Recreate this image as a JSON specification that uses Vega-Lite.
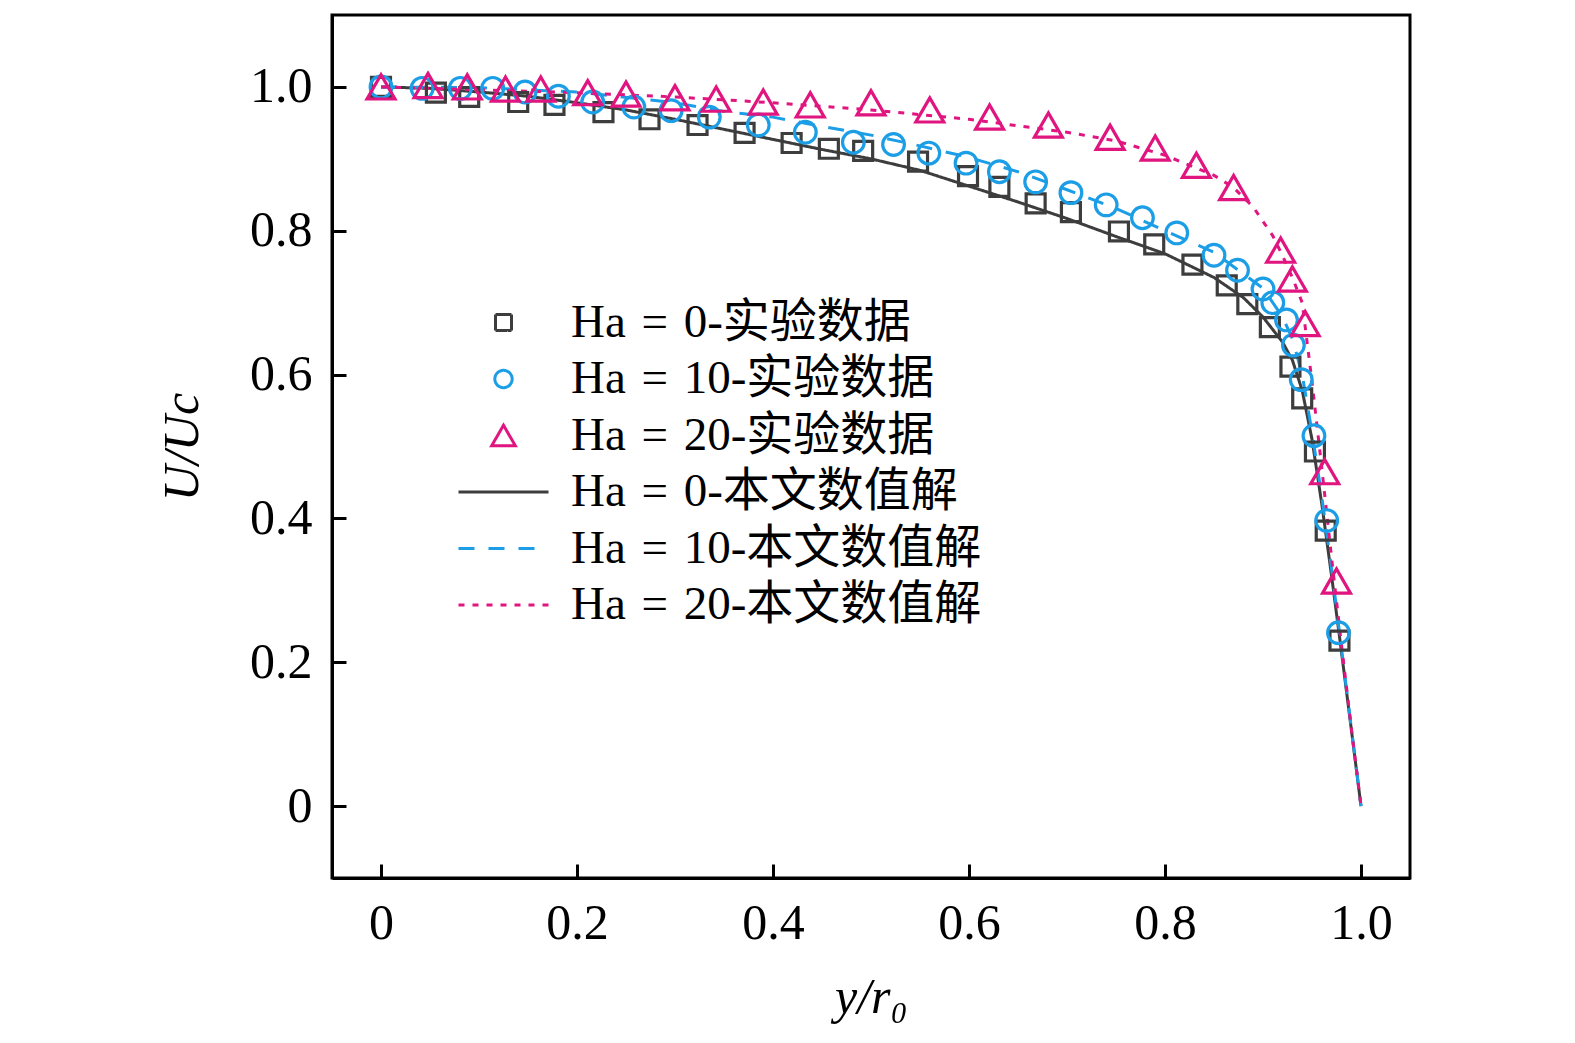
{
  "$schema": "https://vega.github.io/schema/vega-lite/v6.json",
  "width": 1078,
  "height": 863,
  "autosize": {"type": "none"},
  "padding": {"left": 332, "top": 15, "right": 165, "bottom": 165},
  "background": "white",
  "config": {
    "view": {"stroke": "black", "strokeWidth": 3},
    "axis": {
      "grid": false,
      "domainColor": "black",
      "domainWidth": 3,
      "tickColor": "black",
      "tickWidth": 3,
      "tickSize": -14,
      "labelFont": "Liberation Serif",
      "labelFontSize": 50,
      "labelColor": "black",
      "titleFont": "Liberation Serif",
      "titleFontSize": 50,
      "titleFontStyle": "italic",
      "titleFontWeight": "normal",
      "titleColor": "black"
    },
    "legend": {
      "symbolSize": 8100,
      "rowPadding": 8.5,
      "labelOffset": 44,
      "labelFontSize": 47,
      "labelFont": "Liberation Serif, Noto Sans CJK SC",
      "labelColor": "black",
      "labelLimit": 0,
      "padding": 0
    }
  },
  "datasets": {
    "pts": [
      {"x": 0.0, "u": 1.0, "s": "Ha = 0-实验数据"},
      {"x": 0.056, "u": 0.992, "s": "Ha = 0-实验数据"},
      {"x": 0.09, "u": 0.986, "s": "Ha = 0-实验数据"},
      {"x": 0.14, "u": 0.979, "s": "Ha = 0-实验数据"},
      {"x": 0.177, "u": 0.975, "s": "Ha = 0-实验数据"},
      {"x": 0.227, "u": 0.965, "s": "Ha = 0-实验数据"},
      {"x": 0.274, "u": 0.955, "s": "Ha = 0-实验数据"},
      {"x": 0.323, "u": 0.947, "s": "Ha = 0-实验数据"},
      {"x": 0.371, "u": 0.936, "s": "Ha = 0-实验数据"},
      {"x": 0.419, "u": 0.922, "s": "Ha = 0-实验数据"},
      {"x": 0.457, "u": 0.914, "s": "Ha = 0-实验数据"},
      {"x": 0.492, "u": 0.911, "s": "Ha = 0-实验数据"},
      {"x": 0.548, "u": 0.896, "s": "Ha = 0-实验数据"},
      {"x": 0.599, "u": 0.876, "s": "Ha = 0-实验数据"},
      {"x": 0.631, "u": 0.861, "s": "Ha = 0-实验数据"},
      {"x": 0.668, "u": 0.838, "s": "Ha = 0-实验数据"},
      {"x": 0.704, "u": 0.826, "s": "Ha = 0-实验数据"},
      {"x": 0.753, "u": 0.799, "s": "Ha = 0-实验数据"},
      {"x": 0.789, "u": 0.781, "s": "Ha = 0-实验数据"},
      {"x": 0.828, "u": 0.753, "s": "Ha = 0-实验数据"},
      {"x": 0.863, "u": 0.724, "s": "Ha = 0-实验数据"},
      {"x": 0.884, "u": 0.698, "s": "Ha = 0-实验数据"},
      {"x": 0.907, "u": 0.666, "s": "Ha = 0-实验数据"},
      {"x": 0.928, "u": 0.611, "s": "Ha = 0-实验数据"},
      {"x": 0.94, "u": 0.567, "s": "Ha = 0-实验数据"},
      {"x": 0.953, "u": 0.493, "s": "Ha = 0-实验数据"},
      {"x": 0.964, "u": 0.383, "s": "Ha = 0-实验数据"},
      {"x": 0.978, "u": 0.23, "s": "Ha = 0-实验数据"},
      {"x": 0.0, "u": 1.0, "s": "Ha = 10-实验数据"},
      {"x": 0.042, "u": 0.998, "s": "Ha = 10-实验数据"},
      {"x": 0.081, "u": 0.998, "s": "Ha = 10-实验数据"},
      {"x": 0.114, "u": 0.998, "s": "Ha = 10-实验数据"},
      {"x": 0.147, "u": 0.993, "s": "Ha = 10-实验数据"},
      {"x": 0.181, "u": 0.987, "s": "Ha = 10-实验数据"},
      {"x": 0.216, "u": 0.979, "s": "Ha = 10-实验数据"},
      {"x": 0.258, "u": 0.972, "s": "Ha = 10-实验数据"},
      {"x": 0.296, "u": 0.967, "s": "Ha = 10-实验数据"},
      {"x": 0.335, "u": 0.958, "s": "Ha = 10-实验数据"},
      {"x": 0.385, "u": 0.947, "s": "Ha = 10-实验数据"},
      {"x": 0.433, "u": 0.937, "s": "Ha = 10-实验数据"},
      {"x": 0.482, "u": 0.923, "s": "Ha = 10-实验数据"},
      {"x": 0.523, "u": 0.92, "s": "Ha = 10-实验数据"},
      {"x": 0.559, "u": 0.908, "s": "Ha = 10-实验数据"},
      {"x": 0.597, "u": 0.894, "s": "Ha = 10-实验数据"},
      {"x": 0.631, "u": 0.882, "s": "Ha = 10-实验数据"},
      {"x": 0.668, "u": 0.868, "s": "Ha = 10-实验数据"},
      {"x": 0.704, "u": 0.853, "s": "Ha = 10-实验数据"},
      {"x": 0.74, "u": 0.836, "s": "Ha = 10-实验数据"},
      {"x": 0.777, "u": 0.818, "s": "Ha = 10-实验数据"},
      {"x": 0.812, "u": 0.797, "s": "Ha = 10-实验数据"},
      {"x": 0.85, "u": 0.766, "s": "Ha = 10-实验数据"},
      {"x": 0.874, "u": 0.745, "s": "Ha = 10-实验数据"},
      {"x": 0.9, "u": 0.719, "s": "Ha = 10-实验数据"},
      {"x": 0.91, "u": 0.7, "s": "Ha = 10-实验数据"},
      {"x": 0.924, "u": 0.676, "s": "Ha = 10-实验数据"},
      {"x": 0.931, "u": 0.641, "s": "Ha = 10-实验数据"},
      {"x": 0.939, "u": 0.593, "s": "Ha = 10-实验数据"},
      {"x": 0.952, "u": 0.515, "s": "Ha = 10-实验数据"},
      {"x": 0.965, "u": 0.397, "s": "Ha = 10-实验数据"},
      {"x": 0.977, "u": 0.241, "s": "Ha = 10-实验数据"},
      {"x": 0.0, "u": 1.0, "s": "Ha = 20-实验数据"},
      {"x": 0.048, "u": 1.002, "s": "Ha = 20-实验数据"},
      {"x": 0.088, "u": 1.0, "s": "Ha = 20-实验数据"},
      {"x": 0.127, "u": 0.997, "s": "Ha = 20-实验数据"},
      {"x": 0.163, "u": 0.997, "s": "Ha = 20-实验数据"},
      {"x": 0.211, "u": 0.992, "s": "Ha = 20-实验数据"},
      {"x": 0.25, "u": 0.99, "s": "Ha = 20-实验数据"},
      {"x": 0.3, "u": 0.985, "s": "Ha = 20-实验数据"},
      {"x": 0.342, "u": 0.983, "s": "Ha = 20-实验数据"},
      {"x": 0.39, "u": 0.979, "s": "Ha = 20-实验数据"},
      {"x": 0.438, "u": 0.975, "s": "Ha = 20-实验数据"},
      {"x": 0.5, "u": 0.978, "s": "Ha = 20-实验数据"},
      {"x": 0.56, "u": 0.968, "s": "Ha = 20-实验数据"},
      {"x": 0.621, "u": 0.958, "s": "Ha = 20-实验数据"},
      {"x": 0.681, "u": 0.947, "s": "Ha = 20-实验数据"},
      {"x": 0.744, "u": 0.93, "s": "Ha = 20-实验数据"},
      {"x": 0.79, "u": 0.915, "s": "Ha = 20-实验数据"},
      {"x": 0.832, "u": 0.891, "s": "Ha = 20-实验数据"},
      {"x": 0.87, "u": 0.86, "s": "Ha = 20-实验数据"},
      {"x": 0.918, "u": 0.773, "s": "Ha = 20-实验数据"},
      {"x": 0.93, "u": 0.733, "s": "Ha = 20-实验数据"},
      {"x": 0.943, "u": 0.671, "s": "Ha = 20-实验数据"},
      {"x": 0.963, "u": 0.465, "s": "Ha = 20-实验数据"},
      {"x": 0.975, "u": 0.313, "s": "Ha = 20-实验数据"}
    ],
    "lines": [
      {"x": 0.0, "u": 1.0, "s": "Ha = 0-本文数值解"},
      {"x": 0.05, "u": 0.998, "s": "Ha = 0-本文数值解"},
      {"x": 0.1, "u": 0.993, "s": "Ha = 0-本文数值解"},
      {"x": 0.15, "u": 0.987, "s": "Ha = 0-本文数值解"},
      {"x": 0.2, "u": 0.978, "s": "Ha = 0-本文数值解"},
      {"x": 0.25, "u": 0.968, "s": "Ha = 0-本文数值解"},
      {"x": 0.3, "u": 0.955, "s": "Ha = 0-本文数值解"},
      {"x": 0.35, "u": 0.941, "s": "Ha = 0-本文数值解"},
      {"x": 0.4, "u": 0.927, "s": "Ha = 0-本文数值解"},
      {"x": 0.45, "u": 0.913, "s": "Ha = 0-本文数值解"},
      {"x": 0.5, "u": 0.9, "s": "Ha = 0-本文数值解"},
      {"x": 0.55, "u": 0.884, "s": "Ha = 0-本文数值解"},
      {"x": 0.6, "u": 0.862, "s": "Ha = 0-本文数值解"},
      {"x": 0.65, "u": 0.84, "s": "Ha = 0-本文数值解"},
      {"x": 0.7, "u": 0.817, "s": "Ha = 0-本文数值解"},
      {"x": 0.75, "u": 0.792, "s": "Ha = 0-本文数值解"},
      {"x": 0.8, "u": 0.768, "s": "Ha = 0-本文数值解"},
      {"x": 0.85, "u": 0.735, "s": "Ha = 0-本文数值解"},
      {"x": 0.88, "u": 0.707, "s": "Ha = 0-本文数值解"},
      {"x": 0.9, "u": 0.68, "s": "Ha = 0-本文数值解"},
      {"x": 0.92, "u": 0.645, "s": "Ha = 0-本文数值解"},
      {"x": 0.93, "u": 0.62, "s": "Ha = 0-本文数值解"},
      {"x": 0.94, "u": 0.578, "s": "Ha = 0-本文数值解"},
      {"x": 0.95, "u": 0.51, "s": "Ha = 0-本文数值解"},
      {"x": 0.96, "u": 0.42, "s": "Ha = 0-本文数值解"},
      {"x": 0.97, "u": 0.32, "s": "Ha = 0-本文数值解"},
      {"x": 0.98, "u": 0.215, "s": "Ha = 0-本文数值解"},
      {"x": 0.99, "u": 0.108, "s": "Ha = 0-本文数值解"},
      {"x": 1.0, "u": 0.0, "s": "Ha = 0-本文数值解"},
      {"x": 0.0, "u": 1.0, "s": "Ha = 10-本文数值解"},
      {"x": 0.1, "u": 0.999, "s": "Ha = 10-本文数值解"},
      {"x": 0.2, "u": 0.993, "s": "Ha = 10-本文数值解"},
      {"x": 0.3, "u": 0.978, "s": "Ha = 10-本文数值解"},
      {"x": 0.35, "u": 0.966, "s": "Ha = 10-本文数值解"},
      {"x": 0.4, "u": 0.958, "s": "Ha = 10-本文数值解"},
      {"x": 0.45, "u": 0.945, "s": "Ha = 10-本文数值解"},
      {"x": 0.5, "u": 0.933, "s": "Ha = 10-本文数值解"},
      {"x": 0.55, "u": 0.918, "s": "Ha = 10-本文数值解"},
      {"x": 0.6, "u": 0.902, "s": "Ha = 10-本文数值解"},
      {"x": 0.65, "u": 0.882, "s": "Ha = 10-本文数值解"},
      {"x": 0.7, "u": 0.857, "s": "Ha = 10-本文数值解"},
      {"x": 0.75, "u": 0.831, "s": "Ha = 10-本文数值解"},
      {"x": 0.8, "u": 0.8, "s": "Ha = 10-本文数值解"},
      {"x": 0.85, "u": 0.77, "s": "Ha = 10-本文数值解"},
      {"x": 0.9, "u": 0.72, "s": "Ha = 10-本文数值解"},
      {"x": 0.92, "u": 0.68, "s": "Ha = 10-本文数值解"},
      {"x": 0.93, "u": 0.65, "s": "Ha = 10-本文数值解"},
      {"x": 0.94, "u": 0.6, "s": "Ha = 10-本文数值解"},
      {"x": 0.95, "u": 0.52, "s": "Ha = 10-本文数值解"},
      {"x": 0.96, "u": 0.43, "s": "Ha = 10-本文数值解"},
      {"x": 0.97, "u": 0.33, "s": "Ha = 10-本文数值解"},
      {"x": 0.98, "u": 0.22, "s": "Ha = 10-本文数值解"},
      {"x": 0.99, "u": 0.11, "s": "Ha = 10-本文数值解"},
      {"x": 1.0, "u": 0.0, "s": "Ha = 10-本文数值解"},
      {"x": 0.0, "u": 1.0, "s": "Ha = 20-本文数值解"},
      {"x": 0.1, "u": 0.996, "s": "Ha = 20-本文数值解"},
      {"x": 0.2, "u": 0.992, "s": "Ha = 20-本文数值解"},
      {"x": 0.3, "u": 0.986, "s": "Ha = 20-本文数值解"},
      {"x": 0.4, "u": 0.978, "s": "Ha = 20-本文数值解"},
      {"x": 0.5, "u": 0.968, "s": "Ha = 20-本文数值解"},
      {"x": 0.6, "u": 0.955, "s": "Ha = 20-本文数值解"},
      {"x": 0.7, "u": 0.937, "s": "Ha = 20-本文数值解"},
      {"x": 0.75, "u": 0.925, "s": "Ha = 20-本文数值解"},
      {"x": 0.8, "u": 0.905, "s": "Ha = 20-本文数值解"},
      {"x": 0.85, "u": 0.877, "s": "Ha = 20-本文数值解"},
      {"x": 0.87, "u": 0.86, "s": "Ha = 20-本文数值解"},
      {"x": 0.89, "u": 0.833, "s": "Ha = 20-本文数值解"},
      {"x": 0.91, "u": 0.793, "s": "Ha = 20-本文数值解"},
      {"x": 0.92, "u": 0.765, "s": "Ha = 20-本文数值解"},
      {"x": 0.93, "u": 0.735, "s": "Ha = 20-本文数值解"},
      {"x": 0.94, "u": 0.7, "s": "Ha = 20-本文数值解"},
      {"x": 0.95, "u": 0.59, "s": "Ha = 20-本文数值解"},
      {"x": 0.96, "u": 0.47, "s": "Ha = 20-本文数值解"},
      {"x": 0.97, "u": 0.345, "s": "Ha = 20-本文数值解"},
      {"x": 0.98, "u": 0.225, "s": "Ha = 20-本文数值解"},
      {"x": 0.99, "u": 0.11, "s": "Ha = 20-本文数值解"},
      {"x": 1.0, "u": 0.0, "s": "Ha = 20-本文数值解"}
    ]
  },
  "encoding": {
    "x": {
      "field": "x",
      "type": "quantitative",
      "scale": {"domain": [-0.05, 1.05], "nice": false, "zero": false},
      "axis": {
        "title": "y/r₀",
        "values": [0, 0.2, 0.4, 0.6, 0.8, 1.0],
        "labelExpr": "datum.value == 0 ? '0' : format(datum.value, '.1f')",
        "labelPadding": 34,
        "titlePadding": 24
      }
    },
    "y": {
      "field": "u",
      "type": "quantitative",
      "scale": {"domain": [-0.1, 1.1], "nice": false, "zero": false},
      "axis": {
        "title": "U/Uc",
        "values": [0, 0.2, 0.4, 0.6, 0.8, 1.0],
        "labelExpr": "datum.value == 0 ? '0' : format(datum.value, '.1f')",
        "labelPadding": 34,
        "titlePadding": 42
      }
    },
    "color": {
      "field": "s",
      "type": "nominal",
      "scale": {
        "domain": ["Ha = 0-实验数据", "Ha = 10-实验数据", "Ha = 20-实验数据", "Ha = 0-本文数值解", "Ha = 10-本文数值解", "Ha = 20-本文数值解"],
        "range": ["#3d3d3d", "#1c9ee6", "#e0157f", "#3d3d3d", "#1c9ee6", "#e0157f"]
      },
      "legend": {
        "title": null,
        "orient": "none",
        "legendX": 148,
        "legendY": 284,
        "symbolStrokeWidth": 3,
        "symbolFillColor": "transparent",
        "symbolOpacity": 1,
        "labelExpr": "replace(datum.label, ' = ', '\u2004=\u2004')",
        "encode": {
          "symbols": {
            "update": {
              "size": {"signal": "indexof('' + datum.value, '本文') >= 0 ? 8100 : indexof('' + datum.value, '= 20') >= 0 ? 560 : indexof('' + datum.value, '= 10') >= 0 ? 300 : 256"}
            }
          }
        }
      }
    }
  },
  "layer": [
    {
      "data": {"name": "lines"},
      "mark": {"type": "line", "strokeWidth": 3},
      "encoding": {
        "strokeDash": {
          "field": "s",
          "type": "nominal",
          "scale": {
            "domain": ["Ha = 0-实验数据", "Ha = 10-实验数据", "Ha = 20-实验数据", "Ha = 0-本文数值解", "Ha = 10-本文数值解", "Ha = 20-本文数值解"],
            "range": [[1, 0], [1, 0], [1, 0], [1, 0], [16, 14], [6, 8]]
          },
          "legend": {"title": null}
        }
      }
    },
    {
      "data": {"name": "pts"},
      "transform": [{"filter": "datum.s == 'Ha = 0-实验数据'"}],
      "mark": {"type": "point", "filled": false, "strokeWidth": 3.2, "size": 360, "opacity": 1},
      "encoding": {
        "shape": {
          "field": "s",
          "type": "nominal",
          "scale": {
            "domain": ["Ha = 0-实验数据", "Ha = 10-实验数据", "Ha = 20-实验数据", "Ha = 0-本文数值解", "Ha = 10-本文数值解", "Ha = 20-本文数值解"],
            "range": ["square", "circle", "triangle-up", "stroke", "stroke", "stroke"]
          },
          "legend": {"title": null}
        }
      }
    },
    {
      "data": {"name": "pts"},
      "transform": [{"filter": "datum.s == 'Ha = 10-实验数据'"}],
      "mark": {"type": "point", "filled": false, "strokeWidth": 3.2, "size": 470, "opacity": 1},
      "encoding": {
        "shape": {"field": "s", "type": "nominal", "legend": {"title": null}}
      }
    },
    {
      "data": {"name": "pts"},
      "transform": [{"filter": "datum.s == 'Ha = 20-实验数据'"}],
      "mark": {"type": "point", "filled": false, "strokeWidth": 3.2, "size": 780, "opacity": 1},
      "encoding": {
        "shape": {"field": "s", "type": "nominal", "legend": {"title": null}}
      }
    }
  ]
}
